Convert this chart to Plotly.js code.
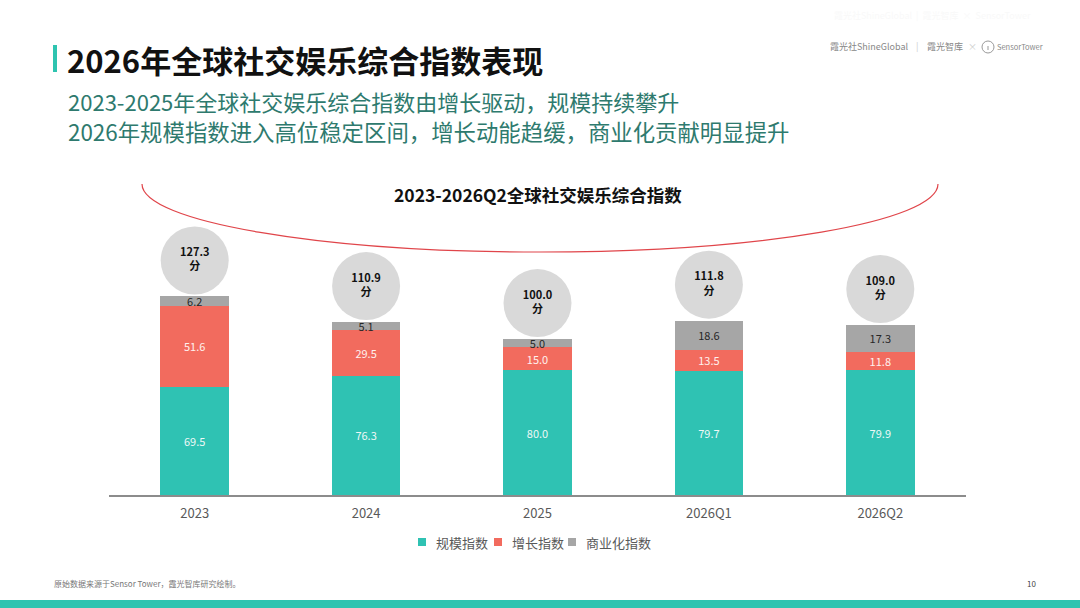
<!DOCTYPE html>
<html>
<head>
<meta charset="utf-8">
<script src="https://cdn.plot.ly/plotly-3.0.1.min.js"></script>
<style>
html,body{margin:0;padding:0;background:#fff;}
#chart{width:1080px;height:608px;}
</style>
</head>
<body>
<div id="chart"></div>
<script>
// ---- data ----
var categories = ['2023', '2024', '2025', '2026Q1', '2026Q2'];
var scaleIndex = [69.5, 76.3, 80.0, 79.7, 79.9];
var growthIndex = [51.6, 29.5, 15.0, 13.5, 11.8];
var commerceIndex = [6.2, 5.1, 5.0, 18.6, 17.3];
var totalIndex = [127.3, 110.9, 100.0, 111.8, 109.0];
var seriesNames = ['规模指数', '增长指数', '商业化指数'];
var seriesColors = ['#2fc2b3', '#f26b5e', '#a6a6a6'];

// ---- layout helpers (pixel -> paper) ----
var L = 109, R = 966, T = 160, B = 495;
function px(x){ return (x - L) / (R - L); }
function py(y){ return (B - y) / (B - T); }
var yMax = (B - T) / 1.56;
var circleOffset = 23;

var font = '"Noto Sans CJK SC", "Noto Sans", sans-serif';

function barTrace(name, vals, color, txtColor){
  return {
    type: 'bar', name: name, x: categories, y: vals,
    marker: {color: color},
    text: vals.map(function(v){ return v.toFixed(1); }),
    textposition: 'inside', insidetextanchor: 'middle', textangle: 0,
    constraintext: 'none',
    textfont: {family: font, size: 11, color: txtColor},
    hoverinfo: 'skip', width: 0.4, cliponaxis: false, showlegend: false
  };
}

var traces = [
  barTrace(seriesNames[0], scaleIndex, seriesColors[0], '#eef8f6'),
  barTrace(seriesNames[1], growthIndex, seriesColors[1], '#fff1ee'),
  barTrace(seriesNames[2], commerceIndex, seriesColors[2], '#262626'),
  {
    type: 'scatter', mode: 'markers+text', x: categories,
    y: totalIndex.map(function(t){ return t + circleOffset; }),
    marker: {size: 68, color: '#d9d9d9', line: {width: 0}},
    text: totalIndex.map(function(t){ return '<b>' + t.toFixed(1) + '<br>分</b>'; }),
    textposition: 'middle center',
    textfont: {family: font, size: 11, color: '#111'},
    showlegend: false, hoverinfo: 'skip', cliponaxis: false
  }
];

// half-ellipse arc below chart title
var ex0 = 142, ex1 = 938, ecy = 184, ery = 68;
var ecx = (ex0 + ex1) / 2, erx = (ex1 - ex0) / 2, k = 0.5523;
function P(x, y){ return px(x) + ',' + py(y); }
var arcPath = 'M' + P(ex0, ecy) +
  ' C' + P(ex0, ecy + k * ery) + ' ' + P(ecx - k * erx, ecy + ery) + ' ' + P(ecx, ecy + ery) +
  ' C' + P(ecx + k * erx, ecy + ery) + ' ' + P(ex1, ecy + k * ery) + ' ' + P(ex1, ecy);

var shapes = [
  {type: 'path', xref: 'paper', yref: 'paper', path: arcPath, line: {color: '#e0454a', width: 1.2}},
  {type: 'rect', xref: 'paper', yref: 'paper', x0: px(53), x1: px(57), y0: py(72), y1: py(45),
   fillcolor: '#2ec4b0', line: {width: 0}},
  {type: 'rect', xref: 'paper', yref: 'paper', x0: px(0), x1: px(1080), y0: py(608), y1: py(600),
   fillcolor: '#2ec4b0', line: {width: 0}},
  {type: 'circle', xref: 'paper', yref: 'paper', x0: px(982), x1: px(994), y0: py(53), y1: py(41),
   line: {color: '#999', width: 1}},
  {type: 'line', xref: 'paper', yref: 'paper', x0: px(988), x1: px(988), y0: py(50), y1: py(46),
   line: {color: '#999', width: 1}}
];

function ann(text, x, y, size, color, anchor, extra){
  var a = {text: text, xref: 'paper', yref: 'paper', x: px(x), y: py(y),
    xanchor: anchor || 'left', yanchor: 'middle', showarrow: false,
    font: {family: font, size: size, color: color}};
  if (extra) for (var k in extra) a[k] = extra[k];
  return a;
}

var annotations = [
  ann('<b>2026年全球社交娱乐综合指数表现</b>', 65, 59, 31, '#111'),
  ann('2023-2025年全球社交娱乐综合指数由增长驱动，规模持续攀升', 66, 101, 22, '#2e7a6e'),
  ann('2026年规模指数进入高位稳定区间，增长动能趋缓，商业化贡献明显提升', 66, 131, 22.4, '#2e7a6e'),
  ann('<b>2023-2026Q2全球社交娱乐综合指数</b>', 538, 194, 17.5, '#111', 'center'),
  ann('霞光社ShineGlobal', 828, 46, 9, '#888'),
  ann('|', 917, 46, 9, '#ccc', 'center'),
  ann('霞光智库', 925, 46, 9, '#888'),
  ann('×', 972, 46, 9, '#ccc', 'center'),
  ann('SensorTower', 995, 47, 7.5, '#888'),
  ann('霞光社ShineGlobal  |  霞光智库  ×  SensorTower', 832, 15, 9, '#f9f9f9'),
  ann('原始数据来源于Sensor Tower，霞光智库研究绘制。', 52, 583, 8, '#777'),
  ann('10', 1038, 583, 8, '#444', 'right')
];

// custom compact legend built from series names/colours
var legendCenters = [422, 498, 572];
seriesNames.forEach(function(n, i){
  var cx = legendCenters[i], cy = 542;
  shapes.push({type: 'rect', xref: 'paper', yref: 'paper',
    x0: px(cx - 4), x1: px(cx + 4), y0: py(cy + 4), y1: py(cy - 4),
    fillcolor: seriesColors[i], line: {width: 0}});
  annotations.push(ann(n, cx + 12, cy, 13, '#595959'));
});

var layout = {
  width: 1080, height: 608,
  margin: {l: L, r: 1080 - R, t: T, b: 608 - B, pad: 0},
  paper_bgcolor: '#fff', plot_bgcolor: '#fff',
  barmode: 'stack', bargap: 0.6,
  showlegend: false,
  xaxis: {type: 'category', showline: true, linecolor: '#8c8c8c', linewidth: 2,
    showgrid: false, zeroline: false, ticks: '', ticklabelstandoff: 5, fixedrange: true,
    tickfont: {family: font, size: 13, color: '#595959'}},
  yaxis: {range: [0, yMax], visible: false, showgrid: false, zeroline: false, fixedrange: true},
  shapes: shapes,
  annotations: annotations,
  font: {family: font}
};

Plotly.newPlot('chart', traces, layout, {displayModeBar: false, staticPlot: true});
</script>
</body>
</html>
